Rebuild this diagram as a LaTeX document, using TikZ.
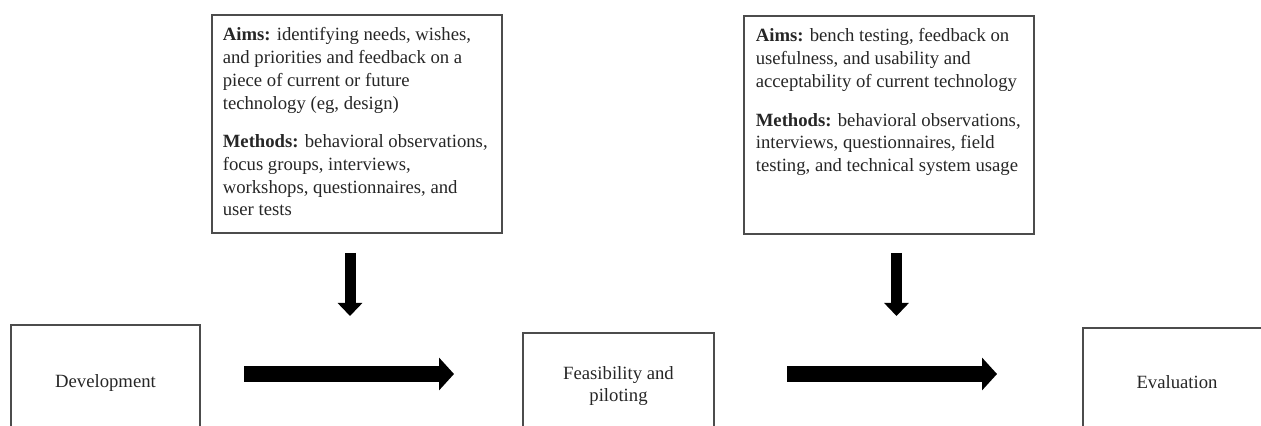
\documentclass[tikz,border=0pt]{standalone}
\usepackage{fontspec}
\setmainfont{Liberation Serif}
\usepackage{tikz}
\usetikzlibrary{arrows.meta}
\def\parsep{8pt}

\begin{document}
\begin{tikzpicture}[x=0.5pt,y=-0.5pt,font=\fontsize{9.35}{11.35}\selectfont]
    \tikzstyle{stagebox}=[rectangle,draw=black!70,line width=0.6pt,inner sep=0pt,align=center,text=black!85]
    \tikzstyle{infobox}=[stagebox,minimum width=145pt,minimum height=109pt]
    \tikzstyle{infotext}=[anchor=north west,inner sep=0pt,align=left,text=black!85]
    \tikzstyle{bigarrow}=[line width=8pt,-{Triangle[length=7.5pt,width=16pt]}]
    \tikzstyle{downarrow}=[line width=5.5pt,-{Triangle[length=6.5pt,width=12pt]}]

    \useasboundingbox (0,0) rectangle (1261,426);

    % Draw the aims and methods boxes
    \node[infobox] (aims-1) at (357,124) {};
    \node[infotext] (text-1) at ([shift={(11,13)}]aims-1.north west)
        {\textbf{Aims:} identifying needs, wishes,\\
         and priorities and feedback on a\\
         piece of current or future\\
         technology (eg, design)\\[\parsep]
         \textbf{Methods:} behavioral observations,\\
         focus groups, interviews,\\
         workshops, questionnaires, and\\
         user tests};

    \node[infobox] (aims-2) at (889,125) {};
    \node[infotext] (text-2) at ([shift={(12,13)}]aims-2.north west)
        {\textbf{Aims:} bench testing, feedback on\\
         usefulness, and usability and\\
         acceptability of current technology\\[\parsep]
         \textbf{Methods:} behavioral observations,\\
         interviews, questionnaires, field\\
         testing, and technical system usage};

    % Draw the stage boxes
    \node[stagebox,minimum width=94.5pt,minimum height=58pt] (dev) at (105.5,383) {Development};
    \node[stagebox,minimum width=95.5pt,minimum height=53pt] (feas) at (618.5,386) {Feasibility and\\piloting};
    \node[stagebox,minimum width=94pt,minimum height=54pt] (eval) at (1177,382) {Evaluation};

    % Arrow ends
    \coordinate (d1s) at (350,253);
    \coordinate (d1e) at (350,316);
    \coordinate (d2s) at (896.5,253);
    \coordinate (d2e) at (896.5,316);
    \coordinate (h1s) at (244,374);
    \coordinate (h1e) at (454,374);
    \coordinate (h2s) at (787,374);
    \coordinate (h2e) at (997,374);

    % Draw the arrows
    \draw[downarrow] (d1s) -- (d1e);
    \draw[downarrow] (d2s) -- (d2e);
    \draw[bigarrow] (h1s) -- (h1e);
    \draw[bigarrow] (h2s) -- (h2e);
\end{tikzpicture}
\end{document}
